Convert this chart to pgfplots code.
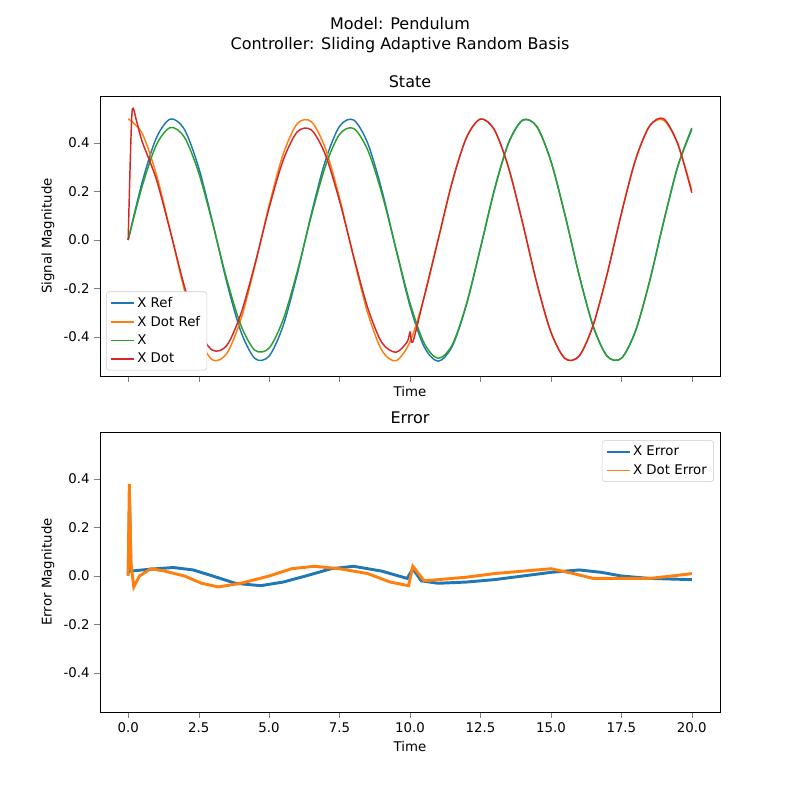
\documentclass[border=0pt]{standalone}
\usepackage{pgfplots}
\pgfplotsset{compat=1.18}
\usepackage{fontspec}
\setmainfont{DejaVu Sans}
\definecolor{c0}{HTML}{1F77B4}
\definecolor{c1}{HTML}{FF7F0E}
\definecolor{c2}{HTML}{2CA02C}
\definecolor{c3}{HTML}{D62728}
\pgfplotsset{
  base/.style={scale only axis, width=465pt, height=210pt,
    xmin=-1, xmax=21, ymin=-0.561, ymax=0.594,
    xtick={0,2.5,5,7.5,10,12.5,15,17.5,20},
    ytick={-0.4,-0.2,0,0.2,0.4},
    yticklabel style={/pgf/number format/.cd,fixed,fixed zerofill,precision=1},
    xticklabel style={/pgf/number format/.cd,fixed,fixed zerofill,precision=1},
    /pgf/number format/assume math mode=true,
    tick align=outside, tick pos=lower,
    font=\fontsize{10}{12}\selectfont,
    title style={font=\fontsize{12}{14}\selectfont, yshift=-3pt},
    xlabel={Time},
    legend cell align=left,
    legend style={font=\fontsize{10}{12}\selectfont, draw=black!20, rounded corners=2pt, row sep=1pt},
    legend image post style={line width=1.1pt},
  }
}
\begin{document}
\begin{tikzpicture}
\path (0,0) rectangle (600pt,600pt);
\node at (300pt,582pt) {\fontsize{12}{14}\selectfont Model: Pendulum};
\node at (300pt,566pt) {\fontsize{12}{14}\selectfont Controller: Sliding Adaptive Random Basis};
\begin{axis}[base, at={(75pt,318pt)}, anchor=south west, title={State},
  ylabel={Signal Magnitude}, xticklabels={}, xlabel style={yshift=7pt},
  legend style={at={(0.01,0.02)}, anchor=south west}]
\addplot[c0, line width=1.1pt, smooth] coordinates {(0,0)(0.5,.240)(1,.421)(1.5,.499)(2,.455)(2.5,.299)(3,.071)(3.5,-.175)(4,-.378)(4.5,-.489)(5,-.479)(5.5,-.353)(6,-.140)(6.5,.108)(7,.328)(7.5,.469)(8,.495)(8.5,.399)(9,.206)(9.5,-.037)(10,-.272)(10.5,-.440)(11,-.500)(11.5,-.438)(12,-.268)(12.5,-.033)(13,.210)(13.5,.402)(14,.495)(14.5,.468)(15,.325)(15.5,.103)(16,-.144)(16.5,-.356)(17,-.480)(17.5,-.488)(18,-.376)(18.5,-.171)(19,.075)(19.5,.303)(20,.456)};
\addlegendentry{X Ref}
\addplot[c1, line width=1.1pt, smooth] coordinates {(0,.5)(0.5,.439)(1,.270)(1.5,.035)(2,-.208)(2.5,-.400)(3,-.495)(3.5,-.468)(4,-.327)(4.5,-.105)(5,.142)(5.5,.354)(6,.480)(6.5,.488)(7,.377)(7.5,.173)(8,-.073)(8.5,-.301)(9,-.455)(9.5,-.498)(10,-.420)(10.5,-.238)(11,.002)(11.5,.241)(12,.422)(12.5,.499)(13,.453)(13.5,.297)(14,.068)(14.5,-.178)(15,-.380)(15.5,-.489)(16,-.479)(16.5,-.351)(17,-.138)(17.5,.109)(18,.330)(18.5,.470)(19,.494)(19.5,.397)(20,.204)};
\addlegendentry{X Dot Ref}
\addplot[c2, line width=1.1pt, smooth] coordinates {(0,0)(0.5,.223)(1,.392)(1.5,.464)(2,.423)(2.5,.278)(3,.066)(3.5,-.163)(4,-.352)(4.5,-.455)(5,-.446)(5.5,-.328)(6,-.130)(6.5,.100)(7,.305)(7.5,.436)(8,.460)(8.5,.371)(9,.192)(9.5,-.035)(10,-.260)(10.5,-.425)(11,-.488)(11.5,-.432)(12,-.265)(12.5,-.033)(13,.208)(13.5,.400)(14,.494)(14.5,.468)(15,.325)(15.5,.103)(16,-.144)(16.5,-.356)(17,-.480)(17.5,-.488)(18,-.376)(18.5,-.171)(19,.075)(19.5,.303)(20,.462)};
\addlegendentry{X}
\addplot[c3, line width=1.1pt, smooth] coordinates {(0,0)(0.08,.35)(0.15,.54)(0.3,.49)(0.5,.405)(1,.250)(1.5,.033)(2,-.193)(2.5,-.372)(3,-.455)(3.5,-.435)(4,-.304)(4.5,-.098)(5,.132)(5.5,.329)(6,.446)(6.5,.454)(7,.351)(7.5,.161)(8,-.068)(8.5,-.280)(9,-.423)(9.5,-.463)(9.9,-.42)(10,-.38)(10.1,-.42)(10.5,-.235)(11,.002)(11.5,.240)(12,.421)(12.5,.499)(13,.453)(13.5,.297)(14,.068)(14.5,-.178)(15,-.380)(15.5,-.489)(16,-.479)(16.5,-.351)(17,-.138)(17.5,.109)(18,.330)(18.5,.470)(19,.500)(19.5,.397)(20,.195)};
\addlegendentry{X Dot}
\end{axis}
\begin{axis}[base, at={(75pt,66pt)}, anchor=south west, title={Error},
  ylabel={Error Magnitude},
  legend style={at={(0.99,0.97)}, anchor=north east}]
\addplot[c0, line width=2.2pt] coordinates {(0,0.01)(0.05,0.3)(0.1,0.02)(0.5,0.025)(1,0.03)(1.6,0.035)(2.3,0.025)(3,0)(3.8,-0.03)(4.7,-0.04)(5.5,-0.025)(6.3,0)(7.2,0.03)(8,0.04)(9,0.02)(9.9,-0.01)(10.1,0.03)(10.4,-0.02)(11,-0.03)(12,-0.025)(13,-0.015)(14,0)(15,0.015)(16,0.025)(16.8,0.015)(17.5,0)(18.5,-0.01)(20,-0.015)};
\addlegendentry{X Error}
\addplot[c1, line width=2.2pt] coordinates {(0,0.0)(0.04,0.38)(0.1,0.05)(0.2,-0.045)(0.4,0.0)(0.8,0.03)(1.3,0.02)(2,0)(2.6,-0.03)(3.2,-0.045)(4,-0.03)(5,0)(5.8,0.03)(6.6,0.04)(7.5,0.03)(8.5,0.01)(9.3,-0.025)(9.95,-0.04)(10.1,0.04)(10.5,-0.02)(11,-0.015)(12,-0.005)(13,0.01)(14,0.02)(15,0.03)(15.8,0.01)(16.5,-0.01)(17.5,-0.01)(18.5,-0.01)(19.3,0)(20,0.01)};
\addlegendentry{X Dot Error}
\end{axis}
\end{tikzpicture}
\end{document}
